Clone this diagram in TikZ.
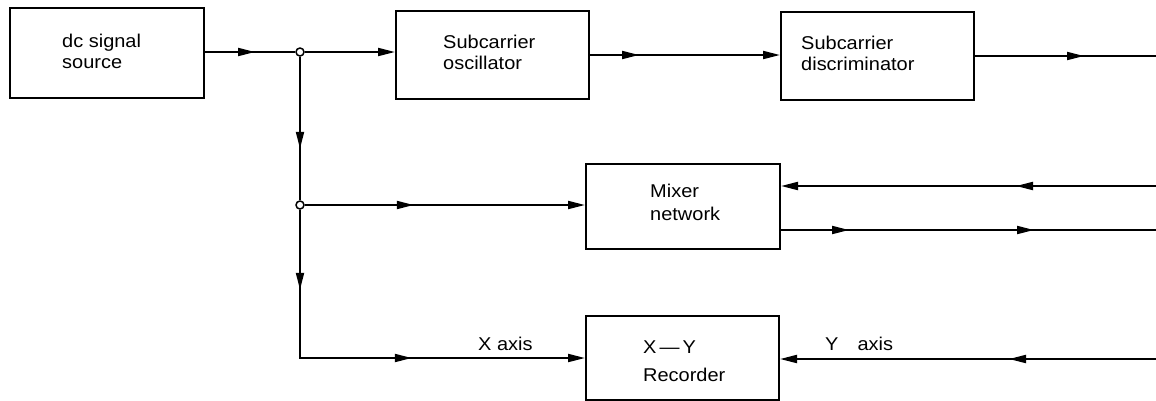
\documentclass[tikz,border=0pt]{standalone}
\usepackage{fontspec}
\setmainfont{Liberation Sans}[FakeStretch=1.08]
\usetikzlibrary{arrows.meta,decorations.markings}
\tikzset{
  blk/.style={draw,line width=2pt,inner sep=0pt},
  lbl/.style={anchor=base west,inner sep=0pt,font=\fontsize{18.5}{22}\selectfont},
  wire/.style={line width=2pt},
  tip/.style={-{Triangle[length=17pt,width=8pt]}},
  junc/.style={circle,draw,fill=white,line width=1.5pt,inner sep=0pt,minimum size=8pt},
  midarrow/.style={postaction={decorate,decoration={markings,mark=at position #1 with {\arrow{Triangle[length=17pt,width=8pt]}}}}}
}
\begin{document}
\begin{tikzpicture}[x=1pt,y=-1pt]
\useasboundingbox (0,0) rectangle (1156,400);
% blocks
\node[blk,minimum width=194pt,minimum height=90pt] (src) at (107,53) {};
\node[blk,minimum width=193pt,minimum height=88pt] (osc) at (492.5,55) {};
\node[blk,minimum width=193pt,minimum height=88pt] (disc) at (877.5,56) {};
\node[blk,minimum width=194pt,minimum height=85pt] (mix) at (683,206) {};
\node[blk,minimum width=193pt,minimum height=84pt] (rec) at (682.5,357.5) {};
% texts
\node[lbl] (t1a) at (62,47) {dc signal};
\node[lbl] (t1b) at (62,68) {source};
\node[lbl] (t2a) at (443,48) {Subcarrier};
\node[lbl] (t2b) at (443,69) {oscillator};
\node[lbl] (t3a) at (801,49) {Subcarrier};
\node[lbl] (t3b) at (801,70) {discriminator};
\node[lbl] (t4a) at (650,197) {Mixer};
\node[lbl] (t4b) at (650,220) {network};
\node[lbl] (t5a) at (643,353) {X\,—\,Y};
\node[lbl] (t5b) at (643,381) {Recorder};
\node[lbl] (xl) at (478,350) {X axis};
\node[lbl] (yl) at (825,350) {Y\hspace{19pt}axis};
% junctions and free ends
\node[junc] (j1) at (300,52) {};
\node[junc] (j2) at (300,205) {};
\coordinate (c2) at (300,358);
\coordinate (e1) at (1156,56);
\coordinate (e2) at (1156,186);
\coordinate (e3) at (1156,230);
\coordinate (e4) at (1156,359);
% connectors
\draw[wire,midarrow=50pt] (src.east |- j1) -- (j1);
\draw[wire,tip] (j1) -- (j1 -| osc.west);
\draw[wire,tip,midarrow=49pt] (osc.east) -- (osc.east -| disc.west);
\draw[wire,midarrow=109pt] (disc.east) -- (disc.east -| e1);
\draw[wire,midarrow=92pt] (j1) -- (j2);
\draw[wire,tip,midarrow=109pt] (j2) -- (j2 -| mix.west);
\draw[wire,tip,midarrow=80pt,midarrow=260pt] (j2) -- (c2) -- (c2 -| rec.west);
\draw[wire,tip,midarrow=140pt] (e2) -- (e2 -| mix.east);
\draw[wire,midarrow=68pt,midarrow=253pt] (mix.east |- e3) -- (e3);
\draw[wire,tip,midarrow=147pt] (e4) -- (e4 -| rec.east);
\end{tikzpicture}
\end{document}
